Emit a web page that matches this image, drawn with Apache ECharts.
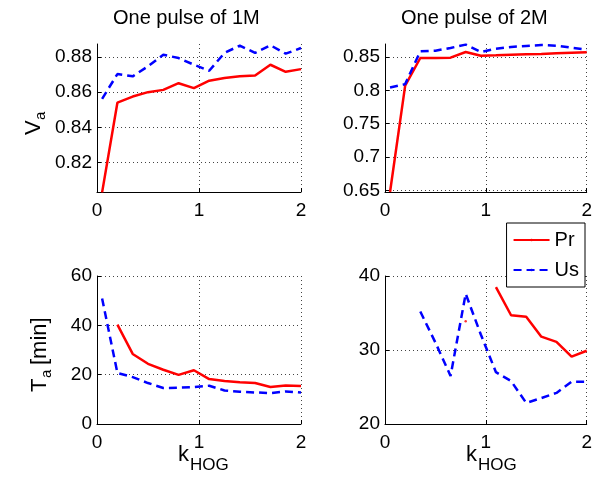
<!DOCTYPE html>
<html>
<head>
<meta charset="UTF-8">
<title>Va / Ta vs kHOG</title>
<script src="https://cdn.jsdelivr.net/npm/echarts@6/dist/echarts.min.js"></script>
<style>
    html, body { margin: 0; padding: 0; background: #fff; }
    #chart { width: 595px; height: 485px; }
</style>
</head>
<body>
<div id="chart"></div>
<script>
    // k_HOG sample points (shared by all four panels)
    var kHog = [0.05, 0.2, 0.35, 0.5, 0.65, 0.8, 0.95, 1.1, 1.25, 1.4, 1.55, 1.7, 1.85, 2.0];

    // V_a, one pulse of 1M
    var vaPr1M = [0.803, 0.854, 0.8575, 0.86, 0.8613, 0.8651, 0.8623, 0.8665, 0.868, 0.8691, 0.8695, 0.8756, 0.8716, 0.8731];
    var vaUs1M = [0.8562, 0.8703, 0.869, 0.8747, 0.8813, 0.8794, 0.8756, 0.8722, 0.8823, 0.8865, 0.8823, 0.8867, 0.8819, 0.8851];
    // V_a, one pulse of 2M
    var vaPr2M = [0.6475, 0.807, 0.8485, 0.8485, 0.849, 0.8575, 0.852, 0.8525, 0.8535, 0.854, 0.8545, 0.8555, 0.8565, 0.857];
    var vaUs2M = [0.8043, 0.8093, 0.8585, 0.8595, 0.8636, 0.8686, 0.8575, 0.8625, 0.865, 0.8665, 0.868, 0.867, 0.864, 0.861];
    // T_a [min], one pulse of 1M
    var taPr1M = [null, 40.3, 28.4, 24.4, 22, 19.9, 21.8, 18.2, 17.4, 16.9, 16.6, 15, 15.6, 15.4];
    var taUs1M = [50.9, 20.7, 19, 16.6, 14.6, 14.7, 15, 15.5, 13.6, 13.1, 12.8, 12.5, 13.2, 12.8];
    // T_a [min], one pulse of 2M
    var taPr2M = [null, null, null, null, null, 33.9, null, 38.5, 34.7, 34.5, 31.8, 31.1, 29.1, 29.9];
    var taUs2M = [null, null, 35.2, 31, 26.5, 37.6, 32.1, 27, 25.8, 22.85, 23.5, 24.2, 25.7, 25.7];

    var xTicks = [0, 1, 2];

    var FONT = 'Liberation Sans';
    var RED = '#ff0000', BLUE = '#0000ff';

    function pairs(ys) {
        return kHog.map(function (k, i) { return [k, ys[i] == null ? '-' : ys[i]]; });
    }
    // points with no neighbours are not drawn by a line, so show them as dots
    function lonely(ys) {
        var out = [];
        ys.forEach(function (v, i) {
            if (v != null && ys[i - 1] == null && ys[i + 1] == null) out.push([kHog[i], v]);
        });
        return out;
    }

    var chart = echarts.init(document.getElementById('chart'), null, { renderer: 'canvas' });

    var grids = [
        { left: 97, top: 44, width: 204, height: 148 },
        { left: 385, top: 44, width: 204, height: 148 },
        { left: 97, top: 276, width: 204, height: 148 },
        { left: 385, top: 276, width: 204, height: 148 }
    ];

    var gridLine = { show: true, showMaxLine: false, lineStyle: { color: '#444', type: [1, 3], width: 1 } };

    function xAxis(i) {
        return {
            type: 'value', gridIndex: i, min: xTicks[0], max: xTicks[xTicks.length - 1], interval: 1,
            axisLine: { lineStyle: { color: '#000', width: 1 } },
            axisTick: { inside: true, length: 4, lineStyle: { color: '#000' } },
            axisLabel: { color: '#000', fontSize: 19, fontFamily: FONT, margin: 9 },
            splitLine: { show: true, lineStyle: { color: '#444', type: [1, 3], width: 1 } }
        };
    }
    function yAxis(i, extra, hideEnds) {
        var a = {
            type: 'value', gridIndex: i,
            axisLine: { show: true, lineStyle: { color: '#000', width: 1 } },
            axisTick: { show: true, inside: true, length: 4, lineStyle: { color: '#000' } },
            axisLabel: { color: '#000', fontSize: 19, fontFamily: FONT, margin: 5,
                showMinLabel: !hideEnds, showMaxLabel: !hideEnds },
            splitLine: hideEnds ? gridLine : { show: true, lineStyle: gridLine.lineStyle }
        };
        for (var k in extra) a[k] = extra[k];
        return a;
    }

    function line(name, data, i, color, dashed) {
        return {
            name: name, type: 'line', xAxisIndex: i, yAxisIndex: i, data: pairs(data),
            symbol: 'none', connectNulls: false, clip: true,
            lineStyle: { color: color, width: 2.5, type: dashed ? [8, 5] : 'solid' },
            itemStyle: { color: color }
        };
    }
    function dots(data, i, color) {
        return {
            type: 'scatter', xAxisIndex: i, yAxisIndex: i, data: lonely(data),
            symbol: 'circle', symbolSize: 2.5, itemStyle: { color: color }, silent: true
        };
    }

    function txt(x, y, s, size) {
        return { type: 'text', x: x, y: y,
            style: { text: s, font: size + 'px ' + FONT, fill: '#000', align: 'left', verticalAlign: 'middle' } };
    }

    chart.setOption({
        animation: false,
        backgroundColor: '#fff',
        grid: grids,
        xAxis: [xAxis(0), xAxis(1), xAxis(2), xAxis(3)],
        yAxis: [
            yAxis(0, { min: 0.8032, max: 0.8874 }, true),
            yAxis(1, { min: 0.6475, max: 0.8695 }, true),
            yAxis(2, { min: 0, max: 60, interval: 20 }, false),
            yAxis(3, { min: 20, max: 40, interval: 10 }, false)
        ],
        legend: {
            data: ['Pr', 'Us'],
            orient: 'vertical',
            right: 10, top: 223,
            itemWidth: 36, itemHeight: 3, itemGap: 8,
            padding: [6, 6, 6, 6],
            itemStyle: { borderWidth: 0 },
            backgroundColor: '#fff',
            borderColor: '#000', borderWidth: 1, borderRadius: 0,
            textStyle: { color: '#000', fontSize: 20, fontFamily: FONT, lineHeight: 22 },
            selectedMode: false
        },
        series: [
            line('Pr', vaPr1M, 0, RED, false),
            line('Us', vaUs1M, 0, BLUE, true),
            line('Pr', vaPr2M, 1, RED, false),
            line('Us', vaUs2M, 1, BLUE, true),
            line('Pr', taPr1M, 2, RED, false),
            line('Us', taUs1M, 2, BLUE, true),
            line('Pr', taPr2M, 3, RED, false),
            line('Us', taUs2M, 3, BLUE, true),
            dots(taPr2M, 3, RED)
        ],
        graphic: [
            { type: 'text', left: 113, top: 8, style: { text: 'One pulse of 1M', font: '20px ' + FONT, fill: '#000' } },
            { type: 'text', left: 401, top: 8, style: { text: 'One pulse of 2M', font: '20px ' + FONT, fill: '#000' } },
            {
                type: 'group', x: 34, y: 126, rotation: Math.PI / 2,
                children: [txt(-9, 0, 'V', 22), txt(6, 7, 'a', 15)]
            },
            {
                type: 'group', x: 40, y: 350, rotation: Math.PI / 2,
                children: [txt(-42, 0, 'T', 22), txt(-28, 7, 'a', 15), txt(-15, 0, '[min]', 22)]
            },
            { type: 'group', x: 178, y: 455, children: [txt(0, 0, 'k', 22), txt(12, 10, 'HOG', 17)] },
            { type: 'group', x: 466, y: 455, children: [txt(0, 0, 'k', 22), txt(12, 10, 'HOG', 17)] }
        ]
    });
</script>
</body>
</html>
